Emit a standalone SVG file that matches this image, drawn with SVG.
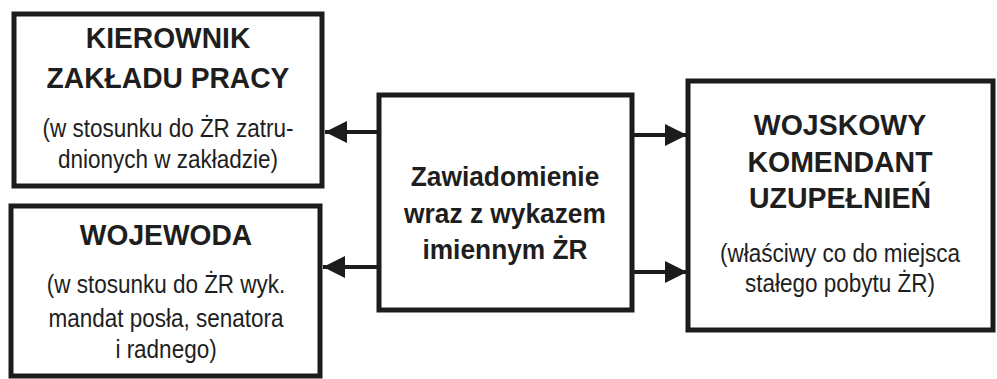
<svg xmlns="http://www.w3.org/2000/svg" width="997" height="379" viewBox="0 0 997 379">
  <style>
    .box { fill: #ffffff; stroke: #1c1c1c; stroke-width: 5; }
    .conn { stroke: #1c1c1c; stroke-width: 4; fill: none; }
    .h { font-family: "Liberation Sans", Arial, sans-serif; font-weight: bold; font-size: 30px; fill: #1e1e1e; text-anchor: middle; }
    .c { font-family: "Liberation Sans", Arial, sans-serif; font-weight: bold; font-size: 28px; fill: #1e1e1e; text-anchor: middle; }
    .t { font-family: "Liberation Sans", Arial, sans-serif; font-size: 25px; fill: #1e1e1e; text-anchor: middle; }
  </style>
  <defs>
    <marker id="arrow" markerUnits="userSpaceOnUse" markerWidth="24" markerHeight="24" refX="22" refY="11" orient="auto">
      <path d="M0,0 L22,11 L0,22 Z" fill="#1c1c1c"/>
    </marker>
  </defs>
  <rect width="997" height="379" fill="#ffffff"/>

  <g id="connectors">
    <line class="conn" x1="378" y1="132" x2="325" y2="132" marker-end="url(#arrow)"/>
    <line class="conn" x1="378" y1="267" x2="323" y2="267" marker-end="url(#arrow)"/>
    <line class="conn" x1="632" y1="135" x2="687" y2="135" marker-end="url(#arrow)"/>
    <line class="conn" x1="632" y1="272" x2="687" y2="272" marker-end="url(#arrow)"/>
  </g>

  <g id="kierownik">
    <rect class="box" x="14" y="14" width="308" height="172"/>
    <g transform="translate(168,0)">
      <text class="h" transform="scale(0.94,1)" x="0" y="48">KIEROWNIK</text>
      <text class="h" transform="scale(0.94,1)" x="0" y="88">ZAKŁADU PRACY</text>
      <text class="t" transform="scale(0.9,1)" x="0" y="137">(w stosunku do ŻR zatru-</text>
      <text class="t" transform="scale(0.9,1)" x="0" y="168">dnionych w zakładzie)</text>
    </g>
  </g>

  <g id="wojewoda">
    <rect class="box" x="11" y="206" width="309" height="170"/>
    <g transform="translate(166,0)">
      <text class="h" transform="scale(0.94,1)" x="0" y="245">WOJEWODA</text>
      <text class="t" transform="scale(0.9,1)" x="0" y="293">(w stosunku do ŻR wyk.</text>
      <text class="t" transform="scale(0.9,1)" x="0" y="327">mandat posła, senatora</text>
      <text class="t" transform="scale(0.9,1)" x="0" y="358">i radnego)</text>
    </g>
  </g>

  <g id="zawiadomienie">
    <rect class="box" x="379" y="95" width="253" height="215"/>
    <g transform="translate(505,0)">
      <text class="c" transform="scale(0.94,1)" x="0" y="186">Zawiadomienie</text>
      <text class="c" transform="scale(0.94,1)" x="0" y="223">wraz z wykazem</text>
      <text class="c" transform="scale(0.94,1)" x="0" y="259">imiennym ŻR</text>
    </g>
  </g>

  <g id="wku">
    <rect class="box" x="688" y="81" width="305" height="249"/>
    <g transform="translate(840,0)">
      <text class="h" transform="scale(0.95,1)" x="0" y="135">WOJSKOWY</text>
      <text class="h" transform="scale(0.95,1)" x="0" y="172">KOMENDANT</text>
      <text class="h" transform="scale(0.95,1)" x="0" y="208">UZUPEŁNIEŃ</text>
      <text class="t" transform="scale(0.9,1)" x="0" y="262">(właściwy co do miejsca</text>
      <text class="t" transform="scale(0.9,1)" x="0" y="292">stałego pobytu ŻR)</text>
    </g>
  </g>
</svg>
